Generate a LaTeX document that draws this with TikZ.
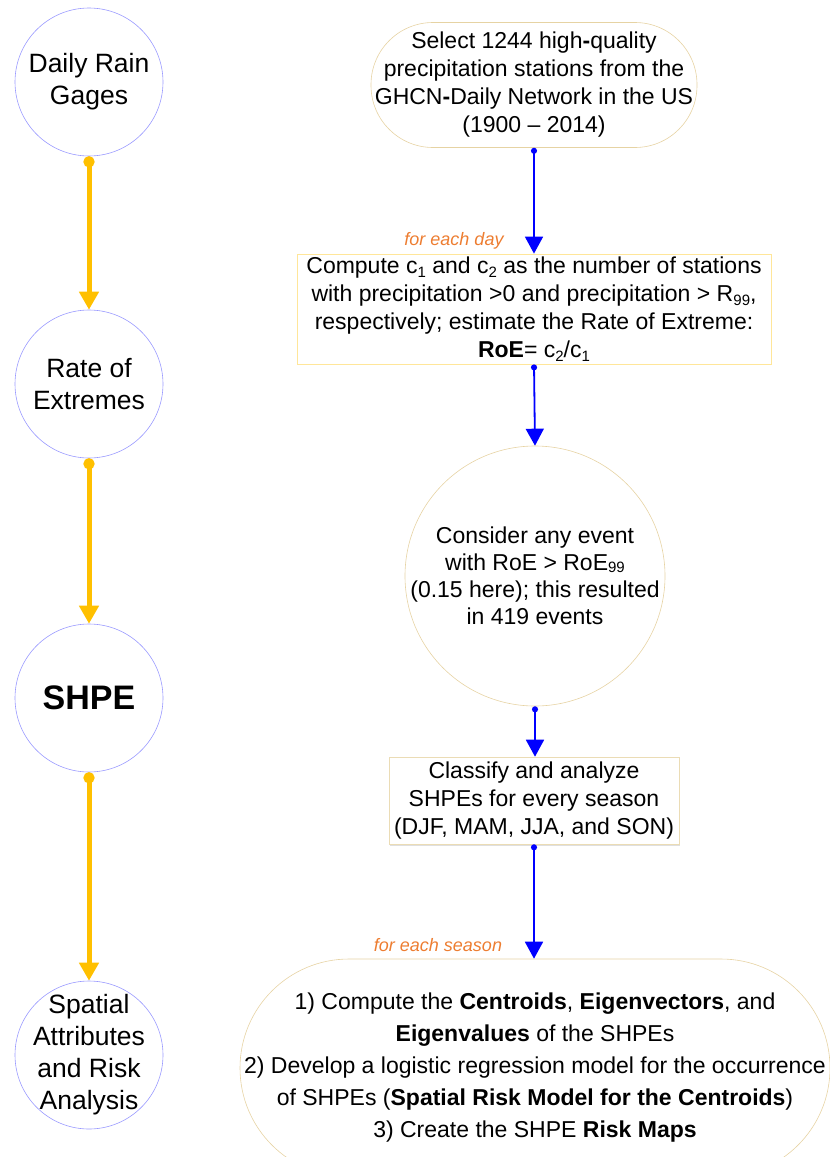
\documentclass[tikz,border=0pt]{standalone}
\usepackage{fontspec}
\setmainfont{Liberation Sans}
\usetikzlibrary{arrows.meta,shadows}
\definecolor{gold}{HTML}{FFC000}
\definecolor{lav}{HTML}{9999FF}
\definecolor{tanb}{HTML}{E6D3A3}
\definecolor{lyel}{HTML}{FFE699}
\definecolor{orng}{HTML}{ED7D31}
\definecolor{blu}{HTML}{0000FF}
\newcommand\lowsub[1]{\raisebox{-0.35ex}{\fontsize{15}{15}\selectfont #1}}
\newcommand\smallsub[1]{\raisebox{-0.15ex}{\fontsize{15}{15}\selectfont #1}}
\begin{document}
\begin{tikzpicture}[x=1pt,y=-1pt,
  leftc/.style={circle, draw=lav, line width=0.6pt, minimum size=148pt, inner sep=0pt},
  lefttext/.style={align=center, inner sep=0pt, font=\fontsize{26.5}{32}\selectfont},
  goldarrow/.style={draw=gold, line width=5pt, {Circle[length=11pt]}-{Triangle[length=18pt,width=19pt]}},
  bluearrow/.style={draw=blu, line width=1.8pt, {Circle[length=6pt]}-{Triangle[length=17pt,width=18pt]}},
  rtext/.style={align=center, inner sep=0pt, font=\fontsize{23}{28}\selectfont},
  note/.style={font=\fontsize{18}{20}\selectfont\itshape, text=orng, inner sep=0pt}
]
\useasboundingbox (0,0) rectangle (830,1157);
\clip (0,0) rectangle (830,1157);

% left column
\node[leftc] (c1) at (89,82) {};
\node[leftc] (c2) at (89,384) {};
\node[leftc] (c3) at (89,698) {};
\node[leftc] (c4) at (89,1055) {};
\node[lefttext] (t1) at (c1.center) {Daily Rain\\Gages};
\node[lefttext] (t2) at (c2.center) {Rate of\\Extremes};
\node[lefttext, font=\fontsize{34}{38}\selectfont\bfseries] (t3) at (c3.center) {SHPE};
\node[lefttext] (t4) at (c4.center) {Spatial\\Attributes\\and Risk\\Analysis};

\draw[goldarrow] (c1) -- (c2);
\draw[goldarrow] (c2) -- (c3);
\draw[goldarrow] (c3) -- (c4);

% right column
\node[rtext, draw=tanb, line width=0.6pt, rounded corners=62pt, minimum width=326pt, minimum height=125pt] (n1) at (534,85)
  {Select 1244 high\textbf{-}quality\\precipitation stations from the\\GHCN\textbf{-}Daily Network in the US\\(1900 -- 2014)};

\node[rtext, draw=lyel, line width=0.8pt, minimum width=474pt, minimum height=110pt] (n2) at (534,309)
  {Compute c\lowsub{1} and c\lowsub{2} as the number of stations\\with precipitation >0 and precipitation > R\lowsub{99},\\respectively; estimate the Rate of Extreme:\\\textbf{RoE}= c\lowsub{2}/c\lowsub{1}};

\node[circle, draw=tanb, line width=0.6pt, minimum size=260pt, inner sep=0pt] (n3) at (535,576) {};
\node[rtext, font=\fontsize{23}{27}\selectfont] (t5) at (n3.center)
  {Consider any event\\with RoE > RoE\smallsub{99}\\(0.15 here); this resulted\\in 419 events};

\node[rtext, draw=tanb!80!white, line width=0.6pt, fill=white, minimum width=290pt, minimum height=87pt,
  drop shadow={shadow xshift=1.2pt, shadow yshift=-1.5pt, opacity=0.25}] (n4) at (534,800.5)
  {Classify and analyze\\SHPEs for every season\\(DJF, MAM, JJA, and SON)};

\node[rtext, draw=tanb, line width=0.6pt, rounded corners=109pt, minimum width=590pt, minimum height=218pt, font=\fontsize{23}{32}\selectfont] (n5) at (535,1068)
  {1) Compute the \textbf{Centroids}, \textbf{Eigenvectors}, and\\\textbf{Eigenvalues} of the SHPEs\\2) Develop a logistic regression model for the occurrence\\of SHPEs (\textbf{Spatial Risk Model for the Centroids})\\3) Create the SHPE \textbf{Risk Maps}};

\draw[bluearrow] (n1.south) -- (n1.south |- n2.north);
\draw[bluearrow] (n2.south) -- (n3.north);
\draw[bluearrow] (n3.south) -- (n3.south |- n4.north);
\draw[bluearrow] (n4.south) -- (n4.south |- n5.north);

\node[note] (l1) at (454,241) {for each day};
\node[note] (l2) at (438,945) {for each season};
\end{tikzpicture}
\end{document}
